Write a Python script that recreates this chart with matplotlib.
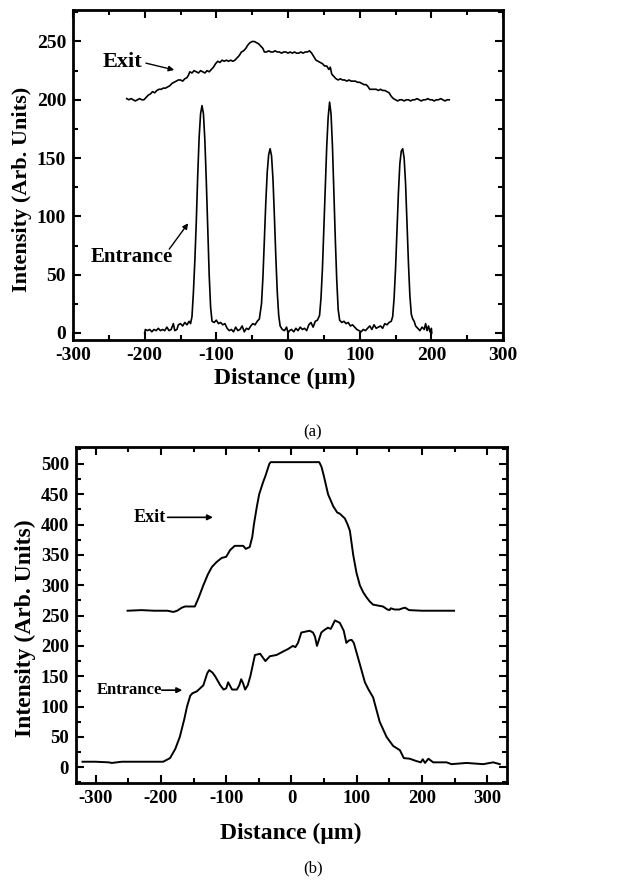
import matplotlib
matplotlib.use("Agg")
import matplotlib.pyplot as plt
from matplotlib.ticker import MultipleLocator

plt.rcParams['font.family'] = ['Liberation Serif', 'DejaVu Serif']
plt.rcParams['axes.unicode_minus'] = False

# ---------------- Panel (a) data ----------------
a_entr_x = [-200, -199, -196, -193, -190, -187, -184, -181, -178, -175, -172, -169, -166, -163, -160, -158,
            -155, -153, -150, -147, -144, -141, -138, -136, -134, -132, -130, -128, -126, -124, -122, -120,
            -118, -116, -114, -112, -110, -108, -106, -103, -100, -97, -94, -91, -88, -85, -82, -79, -76,
            -73, -70, -67, -64, -61, -58, -55, -52, -49, -46, -43, -40, -37, -35, -33, -31, -29, -27, -25,
            -23, -21, -19, -17, -15, -13, -11, -8, -5, -2, 0, 2, 5, 8, 11, 14, 17, 20, 23, 26, 29, 32, 35,
            38, 41, 44, 46, 48, 50, 52, 54, 56, 58, 60, 62, 64, 66, 68, 70, 72, 75, 78, 81, 84, 87, 90, 93,
            96, 99, 102, 105, 108, 111, 114, 117, 120, 123, 126, 129, 132, 135, 138, 141, 144, 146, 148,
            150, 152, 154, 156, 158, 160, 162, 164, 166, 168, 170, 172, 174, 176, 178, 181, 184, 187, 190,
            192, 194, 196, 198, 200, 200.5]
a_entr_y = [0, 3, 2, 3, 1, 3, 2, 4, 2, 3, 2, 5, 2, 3, 8, 2,
            3, 7, 8, 6, 9, 7, 10, 8, 14, 35, 62, 95, 135, 168, 188, 195,
            188, 165, 130, 90, 50, 22, 10, 9, 11, 8, 9, 7, 8, 4, 2, 3, 1,
            5, 2, 3, 6, 1, 4, 3, 6, 8, 7, 10, 12, 25, 48, 80, 112, 138, 153, 158,
            152, 132, 100, 65, 35, 15, 6, 3, 2, 5, 0, 2, 3, 1, 4, 2, 5, 3, 4, 2, 7, 9, 5,
            10, 11, 15, 30, 55, 90, 125, 160, 185, 198, 188, 160, 120, 80, 45, 20, 11, 9, 10, 8, 9, 6, 7, 5,
            3, 2, 1, 3, 2, 4, 6, 3, 7, 4, 5, 6, 4, 8, 7, 9, 10, 14, 30,
            55, 88, 120, 145, 156, 158, 150, 128, 95, 60, 32, 16, 12, 10, 6, 4, 2, 5, 3,
            8, 2, 6, 1, 4, 0]

a_exit_x = [-225, -222, -219, -216, -213, -210, -207, -204, -201, -198, -195, -192, -189, -186, -183, -180,
            -177, -174, -171, -168, -165, -162, -159, -156, -153, -150, -147, -144, -141, -139, -137, -134,
            -131, -128, -125, -122, -119, -116, -113, -110, -107, -104, -101, -98, -95, -92, -89, -86, -83,
            -80, -77, -74, -71, -68, -65, -62, -59, -56, -53, -50, -47, -44, -41, -38, -35, -33, -30, -27,
            -24, -21, -18, -15, -12, -9, -6, -3, 0, 3, 6, 9, 12, 15, 18, 21, 24, 27, 30, 33, 36, 39, 42, 45,
            48, 51, 54, 57, 59, 61, 64, 67, 70, 73, 76, 79, 82, 85, 88, 91, 94, 97, 100, 103, 106, 109, 112,
            114, 117, 120, 123, 126, 129, 132, 135, 138, 141, 144, 147, 150, 153, 156, 159, 162, 165, 168,
            171, 174, 177, 180, 183, 186, 189, 192, 195, 198, 201, 204, 207, 210, 213, 216, 219, 222, 225]
a_exit_y = [201, 200, 201, 200, 199, 200, 201, 200, 200, 202, 204, 205, 207, 206, 208, 209,
            209, 210, 210, 211, 212, 214, 215, 216, 217, 217, 216, 218, 219, 221, 224, 223,
            225, 224, 223, 225, 224, 223, 225, 224, 226, 228, 231, 233, 232, 234, 233, 234, 233,
            234, 233, 234, 236, 238, 241, 242, 244, 247, 249, 250, 250, 249, 248, 246, 244, 241, 241, 242,
            241, 241, 242, 241, 241, 240, 241, 241, 240, 241, 240, 241, 240, 240, 241, 240, 241, 241, 242,
            240, 237, 234, 233, 232, 231, 229, 229, 226, 228, 222, 220, 218, 217, 218, 217, 217, 216, 217,
            216, 216, 216, 215, 215, 214, 213, 213, 211, 209, 209, 209, 209, 208, 209, 208, 208, 207, 206,
            203, 201, 200, 199, 200, 200, 199, 200, 200, 199, 200, 200, 201, 200, 199, 200, 200, 201, 200,
            200, 199, 200, 200, 201, 200, 199, 200, 200]

# ---------------- Panel (b) data ----------------
b_exit_x = [-251, -230, -210, -190, -181, -175, -168, -163, -148, -142, -135, -128, -122, -115, -107, -100,
            -94, -87, -80, -74, -70, -64, -60, -57.6, -53, -49.5, -43.5, -40, -34, -32, 0, 20, 42.5, 46,
            49.6, 56, 64, 70, 74, 81.8, 86, 89.4, 94.5, 99.6, 104.7, 110, 115, 120, 125, 140, 147, 150,
            152, 158, 165, 170, 174, 180, 200, 230, 249]
b_exit_y = [258, 259, 258, 258, 256, 258, 263, 265, 265, 280, 300, 318, 330, 338, 345, 347,
            358, 365, 365, 365, 360, 363, 380, 400, 430, 450, 470, 480, 500, 503, 503, 503, 503, 495,
            480, 450, 430, 420, 418, 410, 400, 390, 350, 320, 300, 288, 280, 273, 268, 265, 260, 259,
            262, 260, 260, 262, 263, 259, 258, 258, 258]

b_entr_x = [-320, -300, -280, -275, -260, -240, -220, -196.5, -186, -178, -171, -164, -160, -155, -151.5,
            -145, -135, -129, -126, -121, -117, -109, -104, -100, -97, -94, -91, -83.6, -80, -77, -74, -71,
            -67, -63, -56, -48, -40, -33, -23, -10.6, -5, 2, 6, 10, 15, 27.7, 33, 36, 39, 42, 45.6, 50,
            55.8, 60, 62, 66.5, 74, 80, 84, 88, 92, 95.4, 102, 112.4, 118, 125, 135, 145.5, 155.7, 166,
            172, 181, 191.5, 198, 201, 204.5, 209.6, 217, 237.6, 245, 268, 293.6, 308.9, 319]
b_entr_y = [9, 9, 8, 7, 9, 9, 9, 9, 15, 30, 50, 80, 100, 118, 122,
            125, 135, 155, 160, 156, 150, 135, 128, 130, 140, 134, 128, 128, 135, 145, 138, 128,
            135, 150, 185, 187, 175, 183, 185, 192, 195, 200, 198, 205, 222, 225, 222, 215, 200, 210, 222, 226,
            230, 228, 232, 242, 238, 225, 205, 209, 210, 205, 180, 140, 128, 115, 75, 50, 35, 28,
            15, 14, 10, 8, 13, 7, 14, 8, 8, 5, 7, 5, 8, 5]

fig = plt.figure(figsize=(6.26, 8.86), dpi=100)

def style(ax, labelsize):
    ax.xaxis.set_major_locator(MultipleLocator(100))
    ax.xaxis.set_minor_locator(MultipleLocator(50))
    ax.yaxis.set_major_locator(MultipleLocator(50))
    ax.yaxis.set_minor_locator(MultipleLocator(25))
    ax.tick_params(which='both', direction='in', top=True, right=True, width=1.5)
    ax.tick_params(which='major', length=6, labelsize=labelsize, pad=5)
    ax.tick_params(which='minor', length=3.5)
    for s in ax.spines.values():
        s.set_linewidth(2)
    for lab in ax.get_xticklabels() + ax.get_yticklabels():
        lab.set_fontweight('bold')

# Panel (a)
ax1 = fig.add_axes([0.1166, 0.6163, 0.687, 0.3724])
ax1.plot(a_exit_x, a_exit_y, color='black', lw=1.2)
ax1.plot(a_entr_x, a_entr_y, color='black', lw=1.2)
ax1.set_xlim(-300, 300)
ax1.set_ylim(-6, 277)
style(ax1, 14)
ax1.text(-258, 232, 'Exit', fontsize=16, fontweight='bold', va='center', ha='left')
ax1.annotate('', xy=(-155, 225), xytext=(-202, 232),
             arrowprops=dict(arrowstyle='-|>', color='black', lw=1, mutation_scale=8))
ax1.text(-276, 65, 'Entrance', fontsize=15, fontweight='bold', va='center', ha='left')
ax1.annotate('', xy=(-137, 96), xytext=(-168, 70),
             arrowprops=dict(arrowstyle='-|>', color='black', lw=1, mutation_scale=8))

fig.text(0.455, 1 - 378 / 886, 'Distance (\u03bcm)', fontsize=17, fontweight='bold', ha='center', va='center')
fig.text(0.035, 1 - 189 / 886, 'Intensity (Arb. Units)', fontsize=16, fontweight='bold',
         rotation=90, ha='center', va='center')
fig.text(0.5, 1 - 432 / 886, '(a)', fontsize=12, ha='center', va='center')

# Panel (b)
ax2 = fig.add_axes([0.1214, 0.1163, 0.6885, 0.3792])
ax2.plot(b_exit_x, b_exit_y, color='black', lw=1.4)
ax2.plot(b_entr_x, b_entr_y, color='black', lw=1.4)
ax2.set_xlim(-330, 330)
ax2.set_ylim(-26, 528)
style(ax2, 13.5)
ax2.text(-241, 412, 'Exit', fontsize=13, fontweight='bold', va='center', ha='left')
ax2.annotate('', xy=(-116, 412), xytext=(-194, 412),
             arrowprops=dict(arrowstyle='-|>', color='black', lw=1.2, mutation_scale=8))
ax2.text(-298, 127, 'Entrance', fontsize=12, fontweight='bold', va='center', ha='left')
ax2.annotate('', xy=(-163, 127), xytext=(-203, 127),
             arrowprops=dict(arrowstyle='-|>', color='black', lw=1.2, mutation_scale=8))

fig.text(0.465, 1 - 833 / 886, 'Distance (\u03bcm)', fontsize=17, fontweight='bold', ha='center', va='center')
fig.text(0.04, 1 - 628 / 886, 'Intensity (Arb. Units)', fontsize=17, fontweight='bold',
         rotation=90, ha='center', va='center')
fig.text(0.5, 1 - 868 / 886, '(b)', fontsize=12, ha='center', va='center')

fig.savefig('out.png', dpi=100)
